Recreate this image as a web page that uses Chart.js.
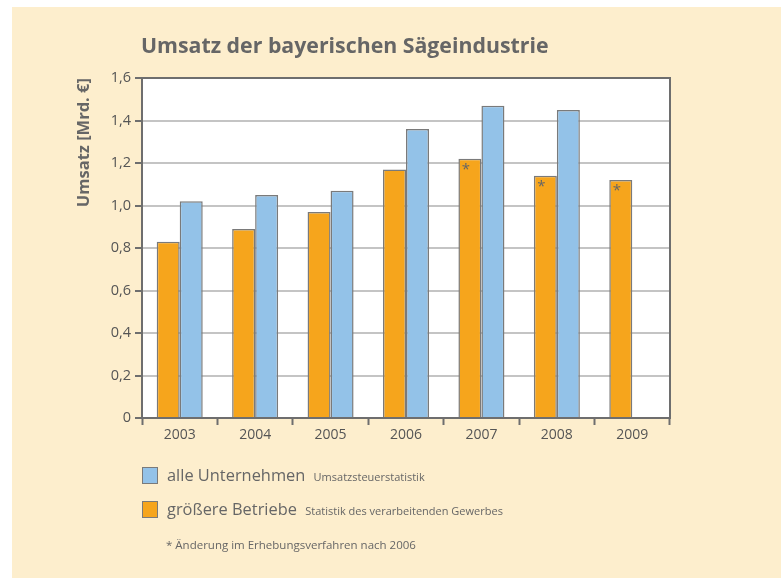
<!DOCTYPE html>
<html>
<head>
<meta charset="utf-8">
<script src="https://cdn.jsdelivr.net/npm/chart.js@4"></script>
<style>
  body { margin: 0; background: #fff; }
  #wrap { position: absolute; left: 12px; top: 7px; width: 769px; height: 571px; background: #fdeecd; }
  #box { position: absolute; left: 0; top: 0; width: 781px; height: 578px; }
  .t { position: absolute; font-family: "Open Sans", sans-serif; color: #666; white-space: nowrap; }
  .sq { position: absolute; width: 14px; height: 15px; border: 1px solid #7a7a7a; }
</style>
</head>
<body>
<div id="wrap"></div>
<div id="box"><canvas id="c" width="781" height="578"></canvas></div>
<div class="t" style="left:141px;top:30px;font-size:21.3px;font-weight:bold;">Umsatz der bayerischen Sägeindustrie</div>
<div class="sq" style="left:142px;top:467px;background:#93c2e8;"></div>
<div class="t" style="left:167px;top:463px;font-size:16.4px;">alle Unternehmen <span style="font-size:11px;margin-left:4px;">Umsatzsteuerstatistik</span></div>
<div class="sq" style="left:142px;top:501px;background:#f6a51c;"></div>
<div class="t" style="left:167px;top:497px;font-size:16.4px;">größere Betriebe <span style="font-size:11px;margin-left:4px;">Statistik des verarbeitenden Gewerbes</span></div>
<div class="t" style="left:166px;top:537px;font-size:11.5px;">* Änderung im Erhebungsverfahren nach 2006</div>
<script>
// =======================
// DATA
// =======================
const years = ["2003", "2004", "2005", "2006", "2007", "2008", "2009"];
const groessereBetriebe = [0.83, 0.89, 0.97, 1.17, 1.22, 1.14, 1.12];
const alleUnternehmen = [1.02, 1.05, 1.07, 1.36, 1.47, 1.45, null];
const starred = [false, false, false, false, true, true, true];
const yTicks = [0, 0.2, 0.4, 0.6, 0.8, 1.0, 1.2, 1.4, 1.6];

// frame + asterisks
const extras = {
    id: "extras",
    beforeDraw(chart) {
        const a = chart.chartArea;
        const ctx = chart.ctx;
        ctx.save();
        ctx.fillStyle = "#fff";
        ctx.fillRect(a.left, a.top, a.right - a.left, a.bottom - a.top);
        ctx.restore();
    },
    afterDatasetsDraw(chart) {
        const ctx = chart.ctx;
        const a = chart.chartArea;
        ctx.save();
        ctx.strokeStyle = "#6e6e6e";
        ctx.lineWidth = 2;
        ctx.strokeRect(a.left, a.top, a.right - a.left, a.bottom - a.top);
        const meta = chart.getDatasetMeta(0);
        ctx.fillStyle = "#666";
        ctx.font = "15px 'Open Sans', sans-serif";
        ctx.textAlign = "center";
        ctx.textBaseline = "top";
        meta.data.forEach((bar, i) => {
            if (!starred[i]) return;
            ctx.fillText("*", bar.x - 4, bar.y + 3);
        });
        ctx.restore();
    }
};

new Chart(document.getElementById("c"), {
    type: "bar",
    data: {
        labels: years,
        datasets: [{
            label: "größere Betriebe",
            data: groessereBetriebe,
            backgroundColor: "#f6a51c",
            borderColor: "#7a7a7a",
            borderWidth: 1.5,
            categoryPercentage: 0.61,
            barPercentage: 1
        }, {
            label: "alle Unternehmen",
            data: alleUnternehmen,
            backgroundColor: "#93c2e8",
            borderColor: "#7a7a7a",
            borderWidth: 1.5,
            categoryPercentage: 0.61,
            barPercentage: 1
        }]
    },
    options: {
        responsive: false,
        animation: false,
        layout: { padding: { left: 74, top: 78, right: 111, bottom: 0 } },
        plugins: {
            legend: { display: false },
            tooltip: { enabled: false }
        },
        scales: {
            x: {
                grid: { drawOnChartArea: false, tickLength: 7, tickColor: "#6e6e6e", tickWidth: 2, offset: true },
                border: { color: "#6e6e6e", width: 2 },
                ticks: { color: "#555", font: { family: "Open Sans", size: 14 }, padding: 2 },
                afterFit(scale) { scale.height = 160; }
            },
            y: {
                min: 0,
                max: 1.6,
                afterBuildTicks(scale) { scale.ticks = yTicks.map(v => ({ value: v })); },
                grid: { color: "#c4c4c4", lineWidth: 2, tickLength: 7, tickColor: "#6e6e6e", tickWidth: 2 },
                border: { color: "#6e6e6e", width: 2 },
                ticks: {
                    color: "#555",
                    font: { family: "Open Sans", size: 14.5 },
                    padding: 4,
                    callback: v => v === 0 ? "0" : v.toFixed(1).replace(".", ",")
                },
                title: {
                    display: true,
                    text: "Umsatz [Mrd. €]",
                    align: "end",
                    color: "#666",
                    font: { family: "Open Sans", size: 16.5, weight: "bold" },
                    padding: 0
                },
                afterFit(scale) { scale.width = 68; }
            }
        }
    },
    plugins: [extras]
});
</script>
</body>
</html>
